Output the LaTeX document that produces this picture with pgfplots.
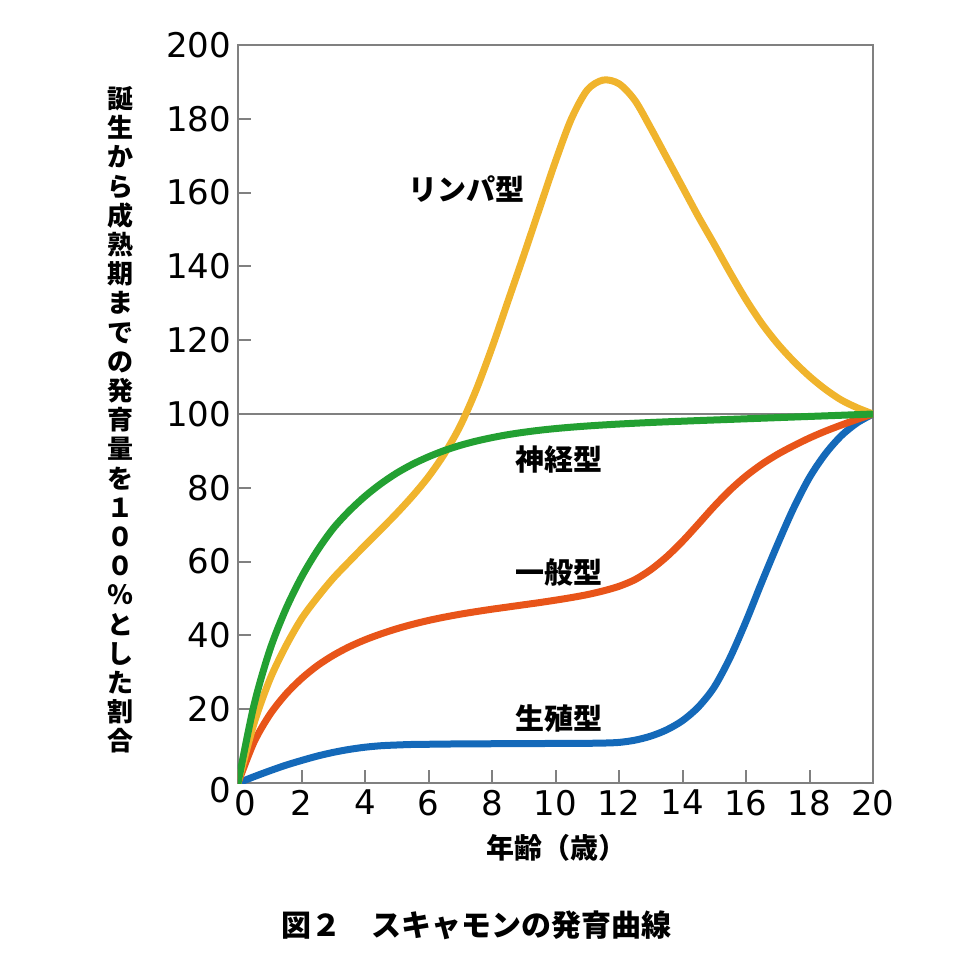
\documentclass[border=0pt]{standalone}
\usepackage{fontspec}
\setmainfont{Noto Sans CJK JP}
\newfontfamily\tickfont{DejaVu Sans}
\usepackage{pgfplots}
\pgfplotsset{compat=1.18}

\definecolor{lymph}{RGB}{240,180,45}
\definecolor{neural}{RGB}{35,160,50}
\definecolor{general}{RGB}{232,84,25}
\definecolor{repro}{RGB}{20,105,185}
\definecolor{frame}{RGB}{128,128,128}

% thick smoothed growth curves (points every half year)
\pgfplotsset{curve/.style={line width=3.5pt, smooth, mark=none, line cap=round, line join=round}}

\begin{document}
\begin{tikzpicture}
\useasboundingbox (-119pt,-91pt) rectangle (370.5pt,391.5pt);
\begin{axis}[
  scale only axis, width=317.5pt, height=369pt,
  at={(0,0)}, anchor=south west,
  xmin=0, xmax=20, ymin=0, ymax=200,
  xtick={2,4,...,20}, ytick={20,40,...,200},
  extra x ticks={0}, extra y ticks={0},
  extra x tick style={xticklabel style={xshift=3.5pt}},
  extra y tick style={yticklabel style={yshift=-3.5pt}},
  tick align=inside, xtick pos=bottom, ytick pos=left,
  major tick length=6.5pt,
  axis line style={draw=frame, line width=1pt},
  tick style={draw=frame, line width=1pt},
  ticklabel style={font=\tickfont\fontsize{17}{17}\selectfont},
  /pgf/number format/assume math mode=true,
]
% reference line at 100 %
\addplot[draw=frame, line width=1pt, sharp plot, mark=none] coordinates {(0,100) (20,100)};

% 生殖型
\addplot[curve, repro] coordinates {
 (0,0) (0.5,1.7) (1,3.3) (1.5,4.8) (2,6.1) (2.5,7.3) (3,8.3) (3.5,9.1)
 (4,9.7) (4.5,10.1) (5,10.3) (5.5,10.45) (6,10.5) (6.5,10.55) (7,10.6)
 (7.5,10.62) (8,10.64) (8.5,10.66) (9,10.68) (9.5,10.7) (10,10.72)
 (10.5,10.74) (11,10.76) (11.5,10.82) (12,11) (12.5,11.6) (13,12.7)
 (13.5,14.4) (14,16.9) (14.5,20.6) (15,26) (15.5,34) (16,43.8) (16.5,54.5)
 (17,64.8) (17.5,74.5) (18,82.8) (18.5,89.2) (19,94.1) (19.5,97.6) (20,100)};

% 一般型
\addplot[curve, general] coordinates {
 (0,0) (0.5,11) (1,18.5) (1.5,24) (2,28.3) (2.5,31.8) (3,34.6) (3.5,36.9)
 (4,38.8) (4.5,40.4) (5,41.8) (5.5,43) (6,44.05) (6.5,44.95) (7,45.75)
 (7.5,46.45) (8,47.1) (8.5,47.7) (9,48.3) (9.5,48.9) (10,49.55)
 (10.5,50.25) (11,51.05) (11.5,52.05) (12,53.3) (12.5,55.1) (13,57.8)
 (13.5,61.3) (14,65.5) (14.5,70.2) (15,75) (15.5,79.4) (16,83.2)
 (16.5,86.4) (17,89.1) (17.5,91.4) (18,93.5) (18.5,95.35) (19,97)
 (19.5,98.55) (20,100)};

% リンパ型
\addplot[curve, lymph] coordinates {
 (0,0) (0.5,16) (1,28) (1.5,37) (2,44.5) (2.5,50.3) (3,55.5) (3.5,60)
 (4,64.4) (4.5,68.7) (5,73.1) (5.5,77.8) (6,83) (6.5,89.2) (7,96.8)
 (7.5,106.5) (8,118) (8.5,130.5) (9,143) (9.5,155.8) (10,168.5) (10.5,180)
 (11,187.8) (11.5,190.5) (12,189.5) (12.5,185) (13,177.5) (13.5,169.5)
 (14,161.5) (14.5,153.5) (15,146) (15.5,138.3) (16,131) (16.5,124.5)
 (17,119) (17.5,114.3) (18,110.2) (18.5,106.7) (19,103.8) (19.5,101.7)
 (20,100)};

% 神経型
\addplot[curve, neural] coordinates {
 (0,0) (0.5,21) (1,36) (1.5,47) (2,55.8) (2.5,63) (3,69) (3.5,73.7)
 (4,77.7) (4.5,81.1) (5,84) (5.5,86.4) (6,88.4) (6.5,90.1) (7,91.5)
 (7.5,92.65) (8,93.6) (8.5,94.4) (9,95.05) (9.5,95.6) (10,96.05)
 (10.5,96.43) (11,96.75) (11.5,97.03) (12,97.28) (12.5,97.5) (13,97.7)
 (13.5,97.88) (14,98.05) (14.5,98.22) (15,98.38) (15.5,98.54) (16,98.7)
 (16.5,98.86) (17,99.02) (17.5,99.18) (18,99.34) (18.5,99.5) (19,99.66)
 (19.5,99.83) (20,100)};

\node[font=\bfseries\fontsize{14.5}{14.5}\selectfont] at (axis cs:7.2,161) {リンパ型};
\node[font=\bfseries\fontsize{14.5}{14.5}\selectfont] at (axis cs:10.1,87.8) {神経型};
\node[font=\bfseries\fontsize{14.5}{14.5}\selectfont] at (axis cs:10.1,57) {一般型};
\node[font=\bfseries\fontsize{14.5}{14.5}\selectfont] at (axis cs:10.1,17.6) {生殖型};
\end{axis}

% axis titles and caption
\node[align=center, font=\bfseries\fontsize{13}{14.6}\selectfont] at (-58.5pt,181.5pt)
  {誕\\生\\か\\ら\\成\\熟\\期\\ま\\で\\の\\発\\育\\量\\を\\１\\０\\０\\％\\と\\し\\た\\割\\合};
\node[font=\bfseries\fontsize{14}{14}\selectfont] at (159pt,-32.5pt) {年齢（歳）};
\node[font=\bfseries\fontsize{15}{15}\selectfont] at (119pt,-71pt) {図２　スキャモンの発育曲線};
\end{tikzpicture}
\end{document}
